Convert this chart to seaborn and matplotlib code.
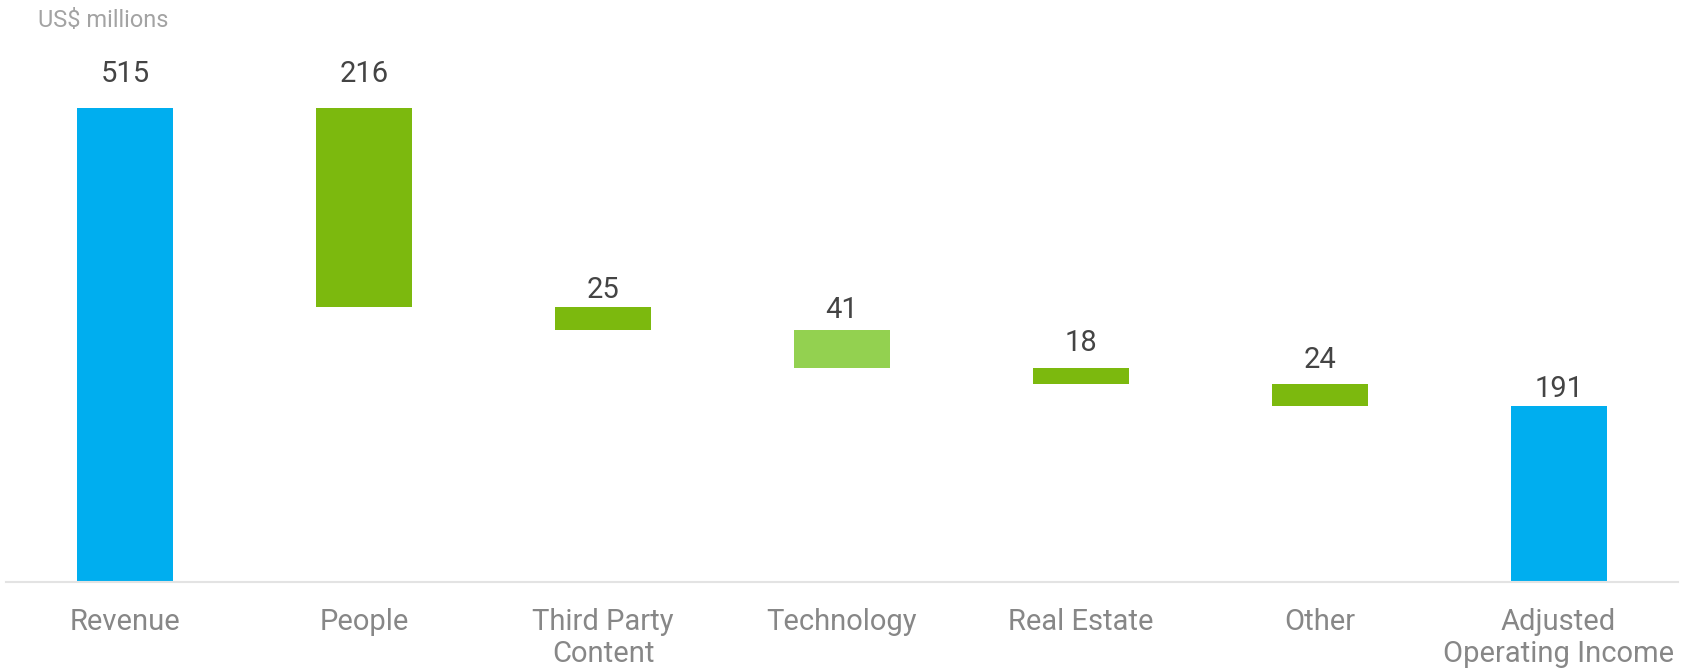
import matplotlib
matplotlib.use("Agg")
import matplotlib.pyplot as plt
import seaborn as sns
import pandas as pd

# ---- data ----
categories = ["Revenue", "People", "Third Party\nContent", "Technology",
              "Real Estate", "Other", "Adjusted\nOperating Income"]
values = [515, 216, 25, 41, 18, 24, 191]
kinds = ["total", "decrease", "decrease", "decrease", "decrease", "decrease", "total"]
unit_label = "US$ millions"

# ---- styles ----
colors = ["#00AEEF", "#7CB90E", "#7CB90E", "#93D150", "#7CB90E", "#7CB90E", "#00AEEF"]
label_offsets_px = [26, 26, 9, 12, 17, 16, 9]

# waterfall bottoms
bottoms = []
running = 0
for v, k in zip(values, kinds):
    if k == "total":
        bottoms.append(0)
        running = v
    else:
        running -= v
        bottoms.append(running)

df = pd.DataFrame({"category": categories, "value": values, "bottom": bottoms})

sns.set_theme(style="white")
plt.rcParams["font.family"] = ["Roboto", "DejaVu Sans"]

W, H, DPI = 1687, 670, 100
fig = plt.figure(figsize=(W / DPI, H / DPI), dpi=DPI)
ax = fig.add_axes([6 / W, 88 / H, 1672 / W, 552 / H])

sns.barplot(data=df, x="category", y="value", bottom=df["bottom"].to_numpy(),
            width=0.402, errorbar=None, color=colors[0], ax=ax,
            linewidth=0, saturation=1)
for patch, c in zip(ax.patches, colors):
    patch.set_facecolor(c)
    patch.set_edgecolor("none")

ax.set_xlim(-0.5, 6.5)
ax.set_ylim(0, 600)
ax.set_xlabel("")
ax.set_ylabel("")
ax.set_yticks([])
for s in ["top", "left", "right"]:
    ax.spines[s].set_visible(False)
ax.spines["bottom"].set_color("#e3e3e3")
ax.spines["bottom"].set_linewidth(1.5)
ax.tick_params(axis="x", length=0, pad=19, labelsize=21, labelcolor="#878787")
for t in ax.get_xticklabels():
    t.set_linespacing(1.17)

for i, (v, b, off) in enumerate(zip(values, bottoms, label_offsets_px)):
    ax.annotate(str(v), xy=(i, b + v), xytext=(0, off * 72 / DPI),
                textcoords="offset points", ha="center", va="baseline",
                fontsize=21, color="#444444")

fig.text(38 / W, 1 - 27 / H, unit_label, ha="left", va="baseline",
         fontsize=17, color="#a3a3a3")

fig.savefig("out.png", dpi=DPI)
